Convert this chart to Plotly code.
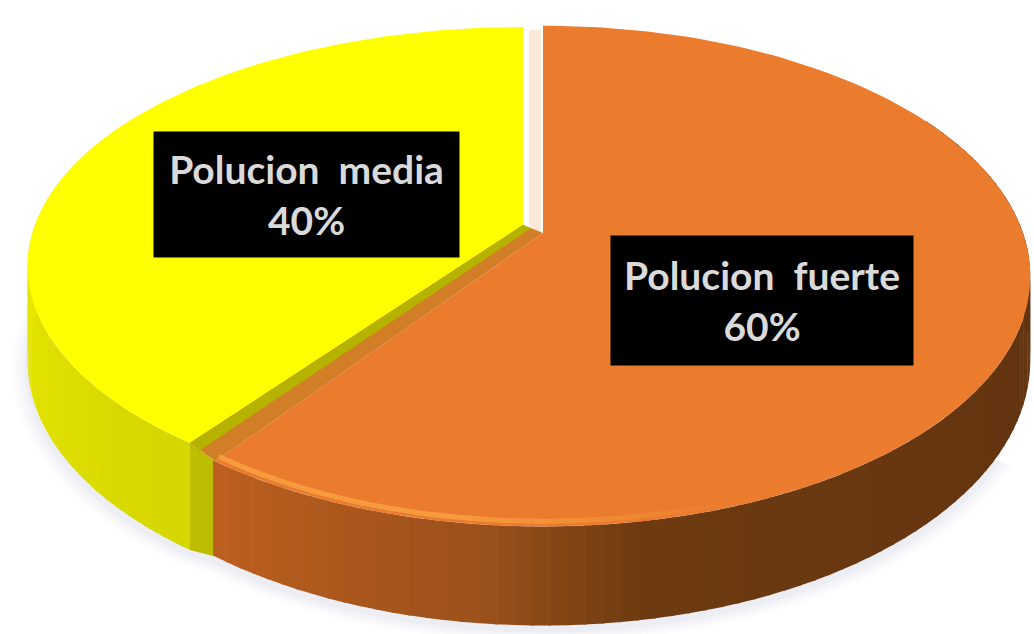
import numpy as np
import plotly.graph_objects as go

categories = ["Polucion\u00a0 fuerte", "Polucion\u00a0 media"]
values = [60, 40]
top_colors = ["#EB7B2D", "#FFFF00"]
edge_colors = ["#F79C3E", "#F4F400"]
cut_colors = ["#D27E26", "#B6B200"]
corner_color = "#BDBD00"
gap_color = "#FCE9D8"
wall_stops = [
    ([60, 90, 170, 186, 216], ["#5a2f0e", "#5f3210", "#6e3b12", "#9c511b", "#bd6020"]),
    ([216, 250, 300], ["#D6D600", "#E2E200", "#F0F000"]),
]
apex = [(543, 233), (523, 225)]
radius_x = [480, 488]
radius_y = [243, 232]
depth = [82, 92]
persp = 0.172
label_xy = [(762, 300), (306, 194)]
label_size = [(300, 127), (303, 123)]


def hex_rgb(c):
    return np.array([int(c[i:i + 2], 16) for i in (1, 3, 5)], float)


def mix(stops, a):
    pos, cols = stops
    rgb = np.array([hex_rgb(c) for c in cols])
    return "rgb(%d,%d,%d)" % tuple(np.interp(a, pos, rgb[:, i]) for i in range(3))


def project(i, theta, r=1.0, drop=False):
    t = np.radians(theta)
    u, v = r * np.sin(t), r * np.cos(t)
    w = 1 + persp * v
    x = apex[i][0] + radius_x[i] * u / w
    y = apex[i][1] - radius_y[i] * v / w
    if drop:
        y = y + depth[i] / w
    return x, y


def poly(xs, ys, color):
    return go.Scatter(x=xs, y=ys, mode="lines", fill="toself", fillcolor=color,
                      line=dict(width=0), hoverinfo="skip", showlegend=False)


# slice angles (clockwise from 12 o'clock)
total = sum(values)
spans = []
start = 0.0
for v in values:
    spans.append((start, start + 360.0 * v / total))
    start += 360.0 * v / total

fig = go.Figure()

# soft ground shadow
th = np.linspace(120, 300, 120)
for s, alpha in [(1.03, 0.04), (1.022, 0.06), (1.014, 0.08), (1.006, 0.10)]:
    x0, y0 = project(1, th[th > 216], s, True)
    x1, y1 = project(0, th[th <= 216], s, True)
    fig.add_trace(poly(np.r_[x1, x0], np.r_[y1, y0] + 5, "rgba(185,185,215,%g)" % alpha))


def draw_wall(i, a0, a1):
    edges = np.linspace(a0, a1, 90)
    for p, q in zip(edges[:-1], edges[1:]):
        seg = np.linspace(p, q + 0.3, 3)
        xt, yt = project(i, seg)
        xb, yb = project(i, seg, 1.0, True)
        fig.add_trace(poly(np.r_[xt, xb[::-1]], np.r_[yt, yb[::-1]],
                           mix(wall_stops[i], 0.5 * (p + q))))


def draw_top(i, a0, a1):
    th = np.linspace(a0, a1, 160)
    x, y = project(i, th)
    fig.add_trace(poly(np.r_[apex[i][0], x], np.r_[apex[i][1], y], top_colors[i]))


# yellow slice
draw_wall(1, spans[1][0], 300)
draw_top(1, *spans[1])

# cream gap next to the orange slice
xb, yb = project(0, 0)
fig.add_trace(go.Scatter(x=[apex[0][0] - 8, xb - 8], y=[apex[0][1] + 2, yb + 4], mode="lines",
                         line=dict(color=gap_color, width=12), hoverinfo="skip", showlegend=False))

# faces seen between the two slices
xc, yc = project(1, spans[0][1])
xd, yd = project(0, spans[0][1])
xc2, yc2 = project(1, spans[0][1], 1.0, True)
xd2, yd2 = project(0, spans[0][1], 1.0, True)
fig.add_trace(poly([apex[1][0], xc, xd, apex[0][0]], [apex[1][1], yc, yd, apex[0][1]], cut_colors[0]))
fig.add_trace(poly([apex[1][0], xc, 0.6 * xc + 0.4 * xd, 0.6 * apex[1][0] + 0.4 * apex[0][0]],
                   [apex[1][1], yc, 0.6 * yc + 0.4 * yd, 0.6 * apex[1][1] + 0.4 * apex[0][1]], cut_colors[1]))
fig.add_trace(poly([xc, xd, xd2, xc2], [yc, yd, yd2, yc2], corner_color))

# orange slice
draw_wall(0, 60, spans[0][1])
draw_top(0, *spans[0])

# rim highlight on the front of the orange slice, fading to the right
rim = np.linspace(160, spans[0][1], 30)
for p, q in zip(rim[:-1], rim[1:]):
    seg = np.array([p, q + 0.3])
    rx, ry = project(0, seg, 0.985)
    fade = np.clip((q - 160) / 30.0, 0, 1)
    col = hex_rgb(top_colors[0]) * (1 - fade) + hex_rgb(edge_colors[0]) * fade
    fig.add_trace(go.Scatter(x=rx, y=ry, mode="lines", hoverinfo="skip", showlegend=False,
                             line=dict(color="rgb(%d,%d,%d)" % tuple(col), width=5)))

for (lx, ly), size, c, v in zip(label_xy, label_size, categories, values):
    fig.add_annotation(x=lx, y=ly, text=f"<b>{c}<br>{v}%</b>", showarrow=False,
                       bgcolor="#000000", width=size[0], height=size[1],
                       align="center", valign="middle",
                       font=dict(family="Lato, Open Sans, sans-serif", size=39, color="#DADADA"))

fig.update_layout(
    width=1034, height=634, margin=dict(l=0, r=0, t=0, b=0),
    paper_bgcolor="#FFFFFF", plot_bgcolor="#FFFFFF", showlegend=False,
    xaxis=dict(range=[0, 1034], visible=False, fixedrange=True),
    yaxis=dict(range=[634, 0], visible=False, fixedrange=True),
)
fig.write_html("out.html", config={"displayModeBar": False},
               post_script="document.body.style.margin='0';document.documentElement.style.overflow='hidden';")
